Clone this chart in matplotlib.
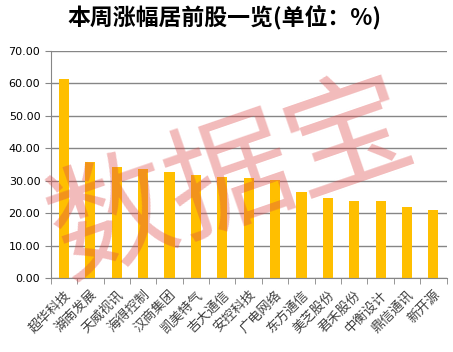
import matplotlib
matplotlib.use("Agg")
import matplotlib.pyplot as plt
import numpy as np
from matplotlib.ticker import FixedLocator, FormatStrFormatter

plt.rcParams['font.family'] = ['Noto Sans CJK SC', 'DejaVu Sans']

# 数据
stocks = ["超华科技", "湖南发展", "天威视讯", "海得控制", "汉商集团", "凯美特气", "吉大通信",
          "安控科技", "广电网络", "东方通信", "美芝股份", "君禾股份", "中衡设计", "鼎信通讯", "新开源"]
gains = [61.3, 35.8, 34.2, 33.6, 32.7, 31.8, 31.2, 30.9, 30.2, 26.5, 24.7, 23.8, 23.8, 21.9, 21.0]
yticks = [0, 10, 20, 30, 40, 50, 60, 70]

fig = plt.figure(figsize=(4.53, 3.52), dpi=100)
ax = fig.add_axes([0.112, 0.209, 0.874, 0.647])

x = np.arange(len(stocks))
ax.bar(x, gains, width=0.38, color="#FFBF00", zorder=2)

ax.set_xlim(-0.5, len(stocks) - 0.5)
ax.set_ylim(0, 70)
ax.set_yticks(yticks)
ax.yaxis.set_major_formatter(FormatStrFormatter("%.2f"))
ax.grid(axis="y", color="#868686", linewidth=1.0, zorder=1)

ax.set_xticks(x)
ax.set_xticklabels(stocks, rotation=45, ha="right", rotation_mode="anchor",
                   fontsize=9.5, color="#404040")
ax.tick_params(axis="x", which="major", length=0, pad=7)
ax.xaxis.set_minor_locator(FixedLocator(np.arange(-0.5, len(stocks), 1.0)))
ax.tick_params(axis="x", which="minor", length=4, color="#868686", direction="out")
ax.tick_params(axis="y", length=4, color="#868686", labelsize=8, labelcolor="black")
for lab in ax.get_yticklabels():
    lab.set_family("DejaVu Sans")

for s in ["top", "right"]:
    ax.spines[s].set_visible(False)
for s in ["left", "bottom"]:
    ax.spines[s].set_color("#868686")

fig.text(0.495, 0.95, "本周涨幅居前股一览(单位：%)", ha="center", va="center",
         fontsize=16.5, fontweight="bold")

# 水印
fig.text(0.51, 0.485, "数据宝", ha="center", va="center", fontsize=90,
         rotation=19, color="#DD4B4B", alpha=0.38, zorder=10)

fig.savefig("out.png", dpi=100)
